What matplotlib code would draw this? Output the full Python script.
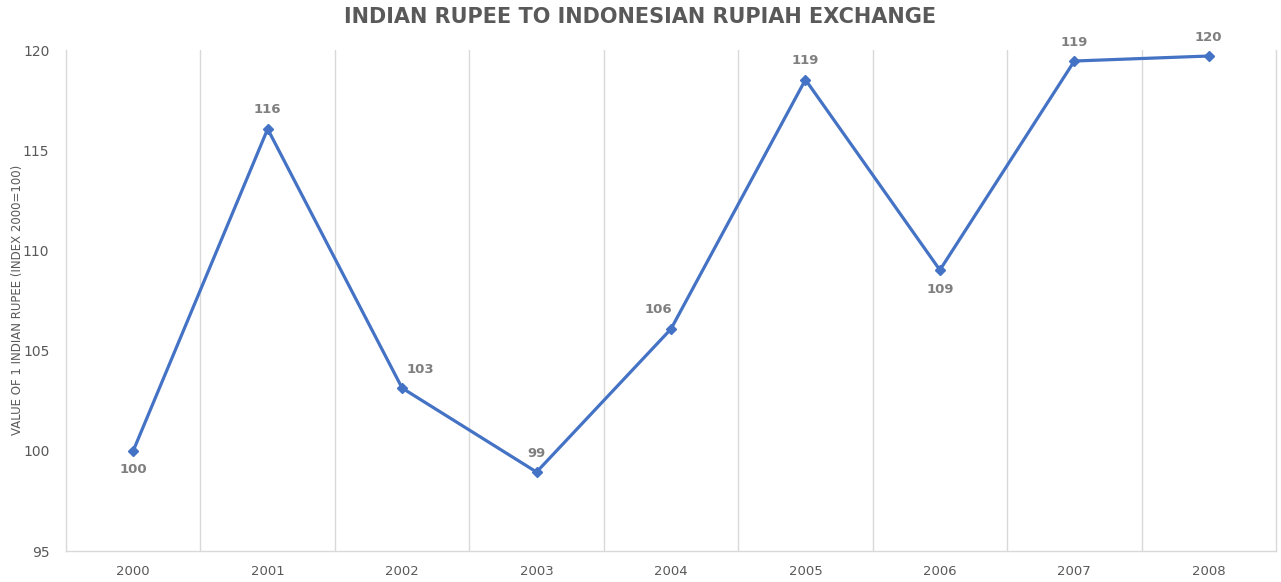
import matplotlib
matplotlib.use("Agg")
import matplotlib.pyplot as plt

years = ["2000", "2001", "2002", "2003", "2004", "2005", "2006", "2007", "2008"]
values = [100.0, 116.06, 103.13, 98.94, 106.08, 118.52, 109.02, 119.45, 119.7]
label_pos = ["below", "above", "above", "above", "above", "above", "below", "above", "above"]
label_dx = [0, 0, 13, 0, -9, 0, 0, 0, 0]
yticks = [95, 100, 105, 110, 115, 120]

title = "INDIAN RUPEE TO INDONESIAN RUPIAH EXCHANGE"
ylabel = "VALUE OF 1 INDIAN RUPEE (INDEX 2000=100)"

line_color = "#4472C4"
grid_color = "#D9D9D9"
text_color = "#595959"
label_color = "#7F7F7F"

fig = plt.figure(figsize=(12.81, 5.82), dpi=100)
ax = fig.add_axes([66/1281, 31/582, (1276-66)/1281, (551-50)/582])

x = list(range(len(years)))
ax.plot(x, values, color=line_color, linewidth=2.3, marker="D", markersize=5.5,
        markeredgecolor=line_color, markerfacecolor=line_color, zorder=3)

for xi, v, pos, dx in zip(x, values, label_pos, label_dx):
    if pos == "above":
        ax.annotate(f"{round(v):d}", (xi, v), xytext=(dx, 9), textcoords="offset points",
                    ha="center", va="bottom", fontsize=9.5, fontweight="bold", color=label_color)
    else:
        ax.annotate(f"{round(v):d}", (xi, v), xytext=(dx, -9), textcoords="offset points",
                    ha="center", va="top", fontsize=9.5, fontweight="bold", color=label_color)

ax.set_xlim(-0.5, len(years) - 0.5)
ax.set_ylim(95, 120)
ax.set_yticks(yticks)
ax.set_yticklabels([str(t) for t in yticks], fontsize=10, color=text_color)
ax.set_xticks(x)
ax.set_xticklabels(years, fontsize=9.5, color=text_color)
ax.tick_params(axis="both", length=0)
ax.tick_params(axis="x", pad=10)
ax.tick_params(axis="y", pad=12)

for b in [i + 0.5 for i in range(len(years) - 1)]:
    ax.axvline(b, color=grid_color, linewidth=1.0, zorder=1)

for side in ["left", "right", "bottom"]:
    ax.spines[side].set_color(grid_color)
    ax.spines[side].set_linewidth(1.0)
ax.spines["top"].set_visible(False)

fig.text(18/1281, 1 - 300/582, ylabel, rotation=90, ha="center", va="center",
         fontsize=8.5, color=text_color)

fig.text(0.5, 1 - 17/582, title, ha="center", va="center", fontsize=15,
         fontweight="bold", color=text_color)

fig.savefig("out.png", dpi=100)
